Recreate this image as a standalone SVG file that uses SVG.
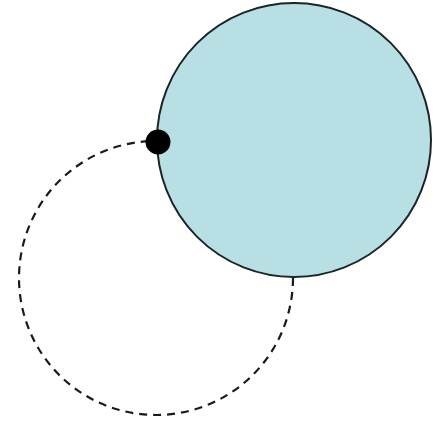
<svg xmlns="http://www.w3.org/2000/svg" width="443" height="426" viewBox="0 0 443 426">
<style>
.big{fill:#b8dfe3;stroke:#1a2626;stroke-width:2}
.dash{fill:none;stroke:#1a1a1a;stroke-width:2.2;stroke-dasharray:8 6}
.dot{fill:#000}
</style>
<rect width="443" height="426" fill="#fff"/>
<g id="connectors">
<circle class="dash" cx="156" cy="278" r="137"/>
</g>
<g id="circle">
<circle class="big" cx="294" cy="140" r="137"/>
</g>
<g id="point">
<circle class="dot" cx="158" cy="142" r="12.5"/>
</g>
</svg>
